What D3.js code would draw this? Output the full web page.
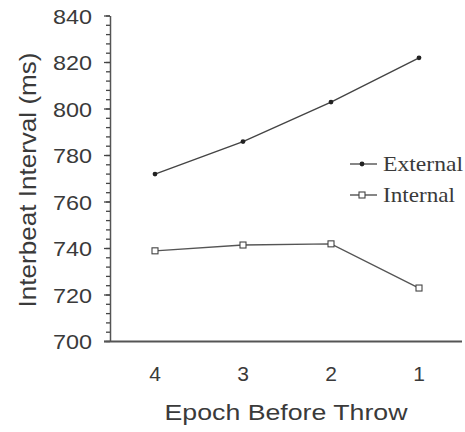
<!DOCTYPE html>
<html><head><meta charset="utf-8">
<script src="https://cdn.jsdelivr.net/npm/d3@7"></script>
<style>body{margin:0;background:#fff}svg{display:block}</style>
</head><body>
<svg id="c" width="465" height="432"></svg>
<script>
const epochs = ["4", "3", "2", "1"];
const external = [772, 786, 803, 822];
const internal = [739, 741.5, 742, 723];
const yTicks = [700, 720, 740, 760, 780, 800, 820, 840];
const seriesNames = ["External", "Internal"];

const svg = d3.select("#c");
const ink = "#3a3a3a";
const x = d3.scalePoint().domain(epochs).range([111, 463]).padding(0.5);
const y = d3.scaleLinear().domain([700, 840]).range([341.5, 16]);

// y axis line
svg.append("line").attr("x1", 110.5).attr("x2", 110.5).attr("y1", y(840)).attr("y2", y(700))
  .attr("stroke", "#555").attr("stroke-width", 1.5);
// minor ticks every 4 units
const minor = d3.range(700, 841, 4);
svg.selectAll(".mt").data(minor).join("line")
  .attr("x1", 106).attr("x2", 110).attr("y1", d => y(d)).attr("y2", d => y(d))
  .attr("stroke", "#444").attr("stroke-width", 1.3);
svg.selectAll(".mj").data(yTicks).join("line")
  .attr("x1", 104).attr("x2", 110).attr("y1", d => y(d)).attr("y2", d => y(d))
  .attr("stroke", "#444").attr("stroke-width", 1.3);
// x axis line
svg.append("line").attr("x1", 104).attr("x2", 462).attr("y1", y(700)).attr("y2", y(700))
  .attr("stroke", "#555").attr("stroke-width", 2);

// y tick labels
svg.selectAll(".yl").data(yTicks).join("text")
  .attr("x", 92).attr("y", d => y(d)).attr("dy", "0.36em")
  .attr("text-anchor", "end").attr("font-family", "Liberation Sans, Arial, sans-serif")
  .attr("font-size", 21).attr("fill", ink)
  .attr("textLength", 39).attr("lengthAdjust", "spacingAndGlyphs")
  .text(d => d);

// x tick labels
svg.selectAll(".xl").data(epochs).join("text")
  .attr("x", d => x(d)).attr("y", 381)
  .attr("text-anchor", "middle").attr("font-family", "Liberation Sans, Arial, sans-serif")
  .attr("font-size", 21).attr("fill", ink)
  .text(d => d);

// axis titles
svg.append("text").attr("x", 286).attr("y", 420).attr("text-anchor", "middle")
  .attr("font-family", "Liberation Sans, Arial, sans-serif").attr("font-size", 22)
  .attr("fill", ink).attr("textLength", 243).attr("lengthAdjust", "spacingAndGlyphs")
  .text("Epoch Before Throw");
svg.append("text").attr("transform", "translate(36,180) rotate(-90)").attr("text-anchor", "middle")
  .attr("font-family", "Liberation Sans, Arial, sans-serif").attr("font-size", 24)
  .attr("fill", ink).attr("textLength", 255).attr("lengthAdjust", "spacingAndGlyphs")
  .text("Interbeat Interval (ms)");

// lines
const line = d3.line().x((d, i) => x(epochs[i])).y(d => y(d));
svg.append("path").datum(external).attr("d", line).attr("fill", "none")
  .attr("stroke", "#444").attr("stroke-width", 1.4);
svg.append("path").datum(internal).attr("d", line).attr("fill", "none")
  .attr("stroke", "#555").attr("stroke-width", 1.4);
svg.selectAll(".ep").data(external).join("circle")
  .attr("cx", (d, i) => x(epochs[i])).attr("cy", d => y(d)).attr("r", 2.4).attr("fill", "#222");
svg.selectAll(".ip").data(internal).join("rect")
  .attr("x", (d, i) => x(epochs[i]) - 3).attr("y", d => y(d) - 3)
  .attr("width", 6).attr("height", 6).attr("fill", "#fff").attr("stroke", "#444").attr("stroke-width", 1.1);

// legend
const lg = svg.append("g");
const ly = [164, 195];
seriesNames.forEach((n, i) => {
  lg.append("line").attr("x1", 350).attr("x2", 377).attr("y1", ly[i]).attr("y2", ly[i])
    .attr("stroke", "#444").attr("stroke-width", 1.3);
  if (i === 0) lg.append("circle").attr("cx", 362).attr("cy", ly[i]).attr("r", 2.4).attr("fill", "#222");
  else lg.append("rect").attr("x", 359).attr("y", ly[i] - 3).attr("width", 6).attr("height", 6)
    .attr("fill", "#fff").attr("stroke", "#444").attr("stroke-width", 1.1);
  lg.append("text").attr("x", 383).attr("y", ly[i]).attr("dy", "0.35em")
    .attr("font-family", "Liberation Serif, Times New Roman, serif").attr("font-size", 21)
    .attr("fill", ink).attr("textLength", i === 0 ? 80 : 72).attr("lengthAdjust", "spacingAndGlyphs")
    .text(n);
});
</script>
</body></html>
